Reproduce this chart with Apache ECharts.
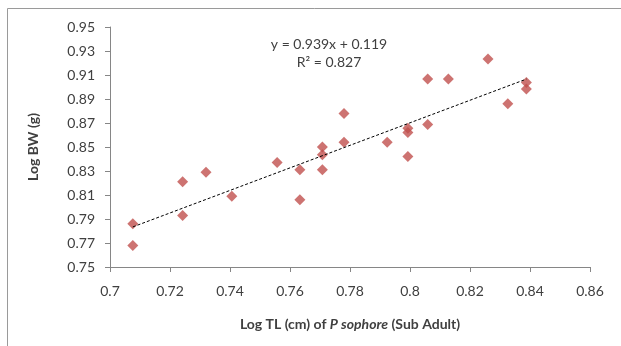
<!DOCTYPE html>
<html>
<head>
<meta charset="utf-8">
<script src="https://cdn.jsdelivr.net/npm/echarts@6/dist/echarts.min.js"></script>
<style>
  html, body { margin: 0; padding: 0; background: #fff; }
  #chart { width: 621px; height: 346px; }
</style>
</head>
<body>
<div id="chart"></div>
<script>
// log TL (x) and log BW (y)
const logTL = [0.7076, 0.7076, 0.7242, 0.7242, 0.732, 0.7406, 0.7557, 0.7633, 0.7633,
  0.7708, 0.7708, 0.7708, 0.778, 0.778, 0.7924, 0.7993, 0.7993, 0.7993,
  0.8059, 0.8059, 0.8128, 0.826, 0.8326, 0.8388, 0.8388];
const logBW = [0.786, 0.768, 0.821, 0.793, 0.829, 0.809, 0.837, 0.831, 0.806,
  0.850, 0.8435, 0.831, 0.878, 0.854, 0.854, 0.8656, 0.862, 0.842,
  0.9066, 0.8687, 0.9066, 0.9234, 0.886, 0.9038, 0.8983];

// linear trend line endpoints
const trendX = [0.7076, 0.8388];
const trendY = [0.7834, 0.9066];

const equation = 'y = 0.939x + 0.119';
const rSquared = 'R² = 0.827';

const font = 'Lato, "Open Sans", sans-serif';
const txt = '#404040';
const axisGray = '#868686';

const points = logTL.map((x, i) => [x, logBW[i]]);
const trend = trendX.map((x, i) => [x, trendY[i]]);

const myChart = echarts.init(document.getElementById('chart'));

const option = {
  animation: false,
  textStyle: { fontFamily: font },
  grid: { left: 110, right: 31, top: 27, bottom: 79 },
  graphic: [
    {
      type: 'rect',
      z: -10,
      shape: { x: 7.5, y: 8.5, width: 700, height: 400 },
      style: { fill: 'none', stroke: '#9a9a9a', lineWidth: 1 }
    },
    {
      type: 'text',
      x: 329, y: 37,
      style: { text: equation, font: '14px ' + font, fill: txt, textAlign: 'center' }
    },
    {
      type: 'text',
      x: 329, y: 55,
      style: { text: rSquared, font: '14px ' + font, fill: txt, textAlign: 'center' }
    }
  ],
  xAxis: {
    type: 'value',
    min: 0.7, max: 0.86, interval: 0.02,
    splitLine: { show: false },
    axisLine: { lineStyle: { color: axisGray } },
    axisTick: { length: 5, lineStyle: { color: axisGray } },
    axisLabel: {
      color: txt, fontSize: 14, margin: 17,
      formatter: v => String(+v.toFixed(2))
    },
    name: '{n|Log TL (cm) of }{i|P sophore}{n| (Sub Adult)}',
    nameLocation: 'middle',
    nameGap: 50,
    nameTextStyle: {
      rich: {
        n: { fontSize: 14, fontWeight: 'bold', color: txt, fontFamily: font },
        i: { fontSize: 14, fontWeight: 'bold', fontStyle: 'italic', color: txt, fontFamily: font }
      }
    }
  },
  yAxis: {
    type: 'value',
    min: 0.75, max: 0.95, interval: 0.02,
    splitLine: { show: false },
    axisLine: { show: true, lineStyle: { color: axisGray } },
    axisTick: { show: true, length: 5, lineStyle: { color: axisGray } },
    axisLabel: {
      color: txt, fontSize: 14, margin: 15,
      formatter: v => v.toFixed(2)
    },
    name: 'Log BW (g)',
    nameLocation: 'middle',
    nameGap: 70,
    nameTextStyle: { fontSize: 14, fontWeight: 'bold', color: txt }
  },
  series: [
    {
      type: 'scatter',
      symbol: 'diamond',
      symbolSize: 11,
      itemStyle: { color: '#C0504D' },
      data: points,
      z: 3
    },
    {
      type: 'line',
      data: trend,
      symbol: 'none',
      lineStyle: { color: '#000', width: 1, type: [3, 2] },
      z: 4
    }
  ]
};

myChart.setOption(option);
</script>
</body>
</html>
